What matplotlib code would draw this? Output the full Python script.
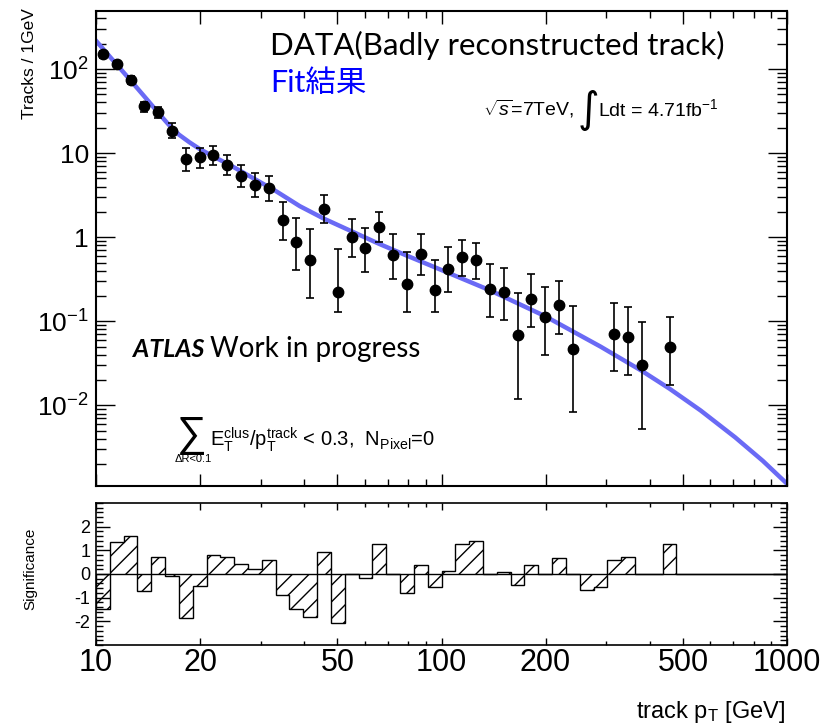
import numpy as np
import matplotlib.pyplot as plt
from matplotlib.ticker import FixedLocator, FixedFormatter, NullFormatter, LogLocator, MultipleLocator

plt.rcParams['font.family'] = ['Liberation Sans', 'DejaVu Sans']
plt.rcParams['mathtext.fontset'] = 'custom'
plt.rcParams['mathtext.rm'] = 'Liberation Sans'
plt.rcParams['mathtext.it'] = 'Liberation Sans:italic'
plt.rcParams['mathtext.bf'] = 'Liberation Sans:bold'
plt.rcParams['axes.unicode_minus'] = False
plt.rcParams['hatch.linewidth'] = 1.0

# 50 log bins from 10 to 1000 GeV, nan = empty bin
tracks = np.array([150, 115, 74, 36, 30.5, 18.4, 8.4, 8.9, 9.5, 7.3,
                   5.4, 4.2, 3.8, 1.59, 0.87, 0.53, 2.17, 0.223, 1.0, 0.746,
                   1.33, 0.61, 0.28, 0.64, 0.238, 0.424, 0.578, 0.532, 0.243, 0.221,
                   0.068, 0.184, 0.112, 0.155, 0.047, np.nan, np.nan, 0.071, 0.0646, 0.030,
                   np.nan, 0.049, np.nan, np.nan, np.nan, np.nan, np.nan, np.nan, np.nan, np.nan])
err_lo = np.array([137, 105, 66, 31, 26, 15, 6.15, 6.6, 7.3, 5.5,
                   3.97, 2.97, 2.73, 0.92, 0.405, 0.19, 1.46, 0.129, 0.58, 0.386,
                   0.88, 0.32, 0.129, 0.36, 0.129, 0.223, 0.347, 0.32, 0.112, 0.103,
                   0.012, 0.0855, 0.040, 0.070, 0.0083, np.nan, np.nan, 0.0254, 0.023, 0.0053,
                   np.nan, 0.0176, np.nan, np.nan, np.nan, np.nan, np.nan, np.nan, np.nan, np.nan])
err_hi = np.array([163, 125, 82, 41, 35, 22.6, 11.4, 11.6, 12.2, 9.6,
                   7.3, 5.8, 5.4, 2.63, 1.71, 1.24, 3.16, 0.73, 1.66, 1.30,
                   2.0, 1.1, 0.67, 1.08, 0.54, 0.77, 0.92, 0.855, 0.477, 0.435,
                   0.22, 0.363, 0.256, 0.30, 0.152, np.nan, np.nan, 0.165, 0.148, 0.097,
                   np.nan, 0.112, np.nan, np.nan, np.nan, np.nan, np.nan, np.nan, np.nan, np.nan])

signif = np.array([-1.47, 1.36, 1.61, -0.70, 0.70, -0.10, -1.87, -0.49, 0.80, 0.70,
                   0.41, 0.22, 0.60, -0.88, -1.49, -1.80, 0.95, -2.05, 0.0, -0.18,
                   1.26, 0.0, -0.81, 0.36, -0.56, 0.14, 1.26, 1.40, 0.0, 0.10,
                   -0.46, 0.36, 0.0, 0.69, 0.0, -0.67, -0.53, 0.59, 0.73, 0.0,
                   0.0, 1.25, 0.0, 0.0, 0.0, 0.0, 0.0, 0.0, 0.0, 0.0])

# fit result
fit_pt = [10, 11.22, 12.59, 14.13, 15.14, 16.22, 17.38, 18.62, 19.95, 21.88,
          25.12, 28.84, 33.11, 38.9, 45.7, 54.95, 66.07, 79.43, 100, 138.0,
          199.5, 288.4, 380.2, 457.1, 562.3, 707.9, 851.1, 1000]
fit_val = [217, 125.9, 73.3, 42.2, 30.2, 21.9, 16.6, 13.5, 11.2, 9.12,
           6.76, 4.90, 3.55, 2.34, 1.66, 1.175, 0.832, 0.603, 0.407, 0.234,
           0.115, 0.0501, 0.0257, 0.0158, 0.0087, 0.00417, 0.00219, 0.00117]

ytick_vals = [1e-2, 1e-1, 1, 10, 100]
ytick_labels = ['$\\mathdefault{10^{-2}}$', '$\\mathdefault{10^{-1}}$', '1', '10', '$\\mathdefault{10^{2}}$']
xtick_vals = [10, 20, 50, 100, 200, 500, 1000]
xtick_labels = ['10', '20', '50', '100', '200', '500', '1000']
sig_ticks = [-2, -1, 0, 1, 2]
sig_labels = ['-2', '-1', '0', '1', '2']

edges = np.logspace(1, 3, 51)
centers = np.sqrt(edges[:-1] * edges[1:])

W, H = 823, 725
fig = plt.figure(figsize=(W / 100, H / 100), dpi=100)
ax1 = fig.add_axes([96 / W, 1 - 486 / H, 691 / W, 475 / H])
ax2 = fig.add_axes([96 / W, 1 - 645 / H, 691 / W, 142 / H])

# top panel
ax1.plot(fit_pt, fit_val, color='#6a6af5', lw=3.2, zorder=2)
ok = ~np.isnan(tracks)
ax1.errorbar(centers[ok], tracks[ok],
             yerr=[tracks[ok] - err_lo[ok], err_hi[ok] - tracks[ok]],
             fmt='o', color='black', ms=7.5, elinewidth=1.2,
             capsize=3, capthick=1.2, zorder=3)
ax1.set_xscale('log')
ax1.set_yscale('log')
ax1.set_xlim(10, 1000)
ax1.set_ylim(1.1e-3, 490)
ax1.yaxis.set_major_locator(FixedLocator(ytick_vals))
ax1.yaxis.set_major_formatter(FixedFormatter(ytick_labels))
ax1.yaxis.set_minor_locator(LogLocator(subs=np.arange(2, 10)))
ax1.yaxis.set_minor_formatter(NullFormatter())
ax1.xaxis.set_major_locator(FixedLocator(xtick_vals))
ax1.xaxis.set_major_formatter(NullFormatter())
ax1.xaxis.set_minor_locator(LogLocator(subs=np.arange(2, 10)))
ax1.xaxis.set_minor_formatter(NullFormatter())
ax1.tick_params(which='both', direction='in', top=True, right=True, width=1)
ax1.tick_params(axis='y', which='major', length=14, labelsize=19, pad=5)
ax1.tick_params(axis='y', which='minor', length=7)
ax1.tick_params(axis='x', which='major', length=9)
ax1.tick_params(axis='x', which='minor', length=5)
for s in ax1.spines.values():
    s.set_linewidth(1.5)

# bottom panel
ax2.stairs(signif, edges, baseline=0, fill=True, facecolor='none',
           edgecolor='black', hatch='//', lw=1)
ax2.axhline(0, color='black', lw=1)
ax2.set_xscale('log')
ax2.set_xlim(10, 1000)
ax2.set_ylim(-3, 3)
ax2.yaxis.set_major_locator(FixedLocator(sig_ticks))
ax2.yaxis.set_major_formatter(FixedFormatter(sig_labels))
ax2.yaxis.set_minor_locator(MultipleLocator(0.2))
ax2.xaxis.set_major_locator(FixedLocator(xtick_vals))
ax2.xaxis.set_major_formatter(FixedFormatter(xtick_labels))
ax2.xaxis.set_minor_locator(LogLocator(subs=np.arange(2, 10)))
ax2.xaxis.set_minor_formatter(NullFormatter())
ax2.tick_params(which='both', direction='in', top=True, right=True, width=1)
ax2.tick_params(axis='y', which='major', length=10, labelsize=13, pad=4)
ax2.tick_params(axis='y', which='minor', length=5)
ax2.tick_params(axis='x', which='major', length=5, labelsize=22, pad=2)
ax2.tick_params(axis='x', which='minor', length=3)
for s in ax2.spines.values():
    s.set_linewidth(1.2)

# labels
fig.text(29 / W, 1 - 8 / H, 'Tracks / 1GeV', rotation=90, ha='center', va='top', fontsize=12.5)
fig.text(30 / W, 1 - 528 / H, 'Significance', rotation=90, ha='center', va='top', fontsize=11)
fig.text(785 / W, 1 - 718 / H, 'track p$_\\mathrm{T}$ [GeV]', ha='right', va='baseline', fontsize=17)

# annotations
fig.text(270 / W, 1 - 55 / H, 'DATA(Badly reconstructed track)', fontsize=22.5,
         family=['Lato', 'DejaVu Sans'], va='baseline')
fig.text(270 / W, 1 - 92 / H, 'Fit結果', fontsize=22, color='#0000ff',
         family=['Lato', 'Noto Sans CJK JP'], va='baseline')
fig.text(483 / W, 1 - 116 / H, '$\\sqrt{s}$=7TeV,', fontsize=14, va='baseline')
fig.text(578 / W, 1 - 122 / H, '∫', fontsize=30, va='baseline', family=['DejaVu Sans'])
fig.text(598 / W, 1 - 116 / H, 'Ldt = 4.71fb$^{-1}$', fontsize=14, va='baseline')
fig.text(133 / W, 1 - 357 / H, 'ATLAS', fontsize=18, fontweight='bold', style='italic',
         family=['Lato', 'DejaVu Sans'], va='baseline')
fig.text(210 / W, 1 - 357 / H, 'Work in progress', fontsize=20,
         family=['Lato', 'DejaVu Sans'], va='baseline')
fig.text(177 / W, 1 - 446 / H, '∑', fontsize=30, va='baseline')
fig.text(193 / W, 1 - 462 / H, 'ΔR<0.1', fontsize=8, ha='center', va='baseline')
fig.text(210 / W, 1 - 446 / H,
         'E$_\\mathrm{T}^\\mathrm{clus}$/p$_\\mathrm{T}^\\mathrm{track}$ < 0.3,  N$_\\mathrm{Pixel}$=0',
         fontsize=14.5, va='baseline')

fig.savefig('out.png', dpi=100)
